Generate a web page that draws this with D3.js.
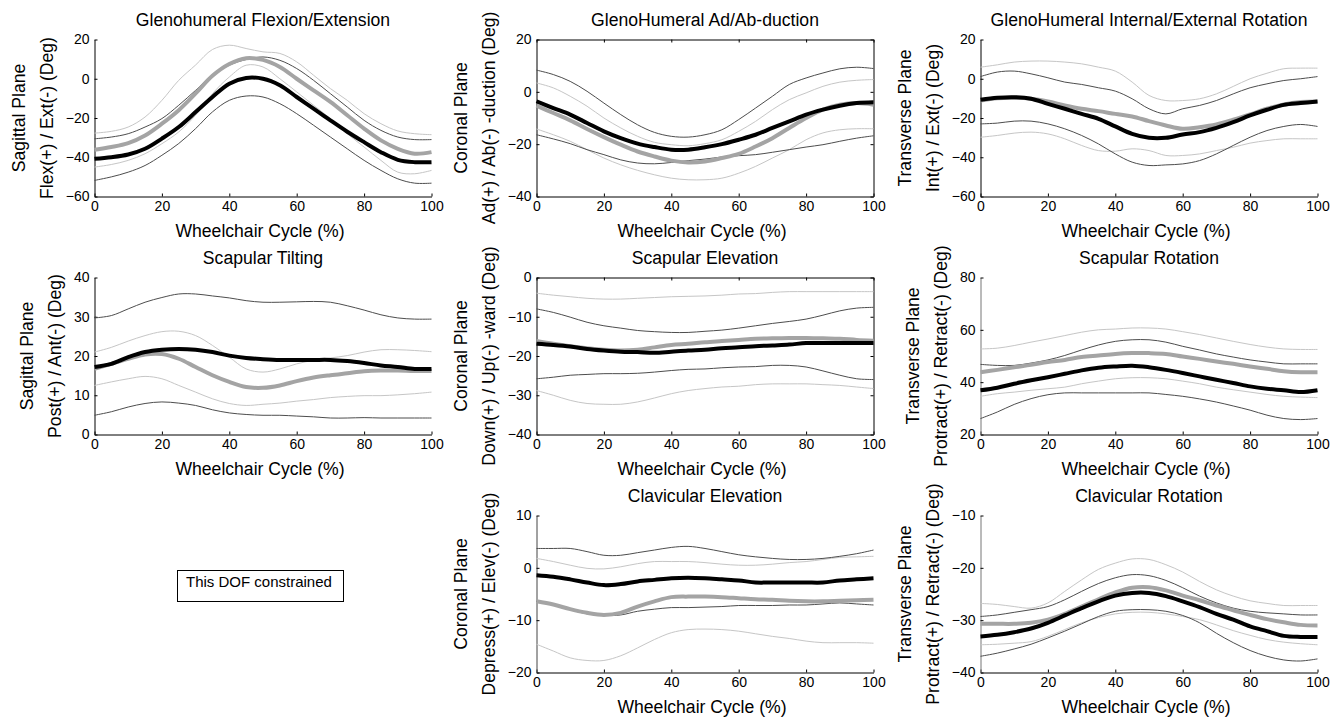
<!DOCTYPE html>
<html>
<head>
<meta charset="utf-8">
<script src="https://cdn.jsdelivr.net/npm/d3@7"></script>
<style>
  body { margin: 0; background: #fff; }
  svg text { font-family: "Liberation Sans", Arial, sans-serif; fill: #000; }
</style>
</head>
<body>
<svg id="chart" width="1342" height="719"></svg>
<script>
// Wheelchair cycle sample points (%)
const cyclePct = [0, 5, 10, 15, 20, 25, 30, 35, 40, 45, 50, 55, 60, 65, 70, 75, 80, 85, 90, 95, 100];
const xTicks = [0, 20, 40, 60, 80, 100];

// Glenohumeral flexion/extension
const ghFlexBlack  = [-40.8, -40, -38.6, -35.7, -30.5, -24.6, -17, -9.3, -2.5, 0.4, 0, -3.3, -9.3, -15.2, -21.2, -27, -32.3, -37.4, -41.3, -42.5, -42.5];
const ghFlexGray   = [-36.2, -34.8, -32.8, -28.9, -22.9, -16, -7.5, 1.5, 7.5, 10.5, 9.6, 6, 0, -5.9, -11.8, -18.6, -25.4, -31.4, -35.7, -38.2, -37.4];
const ghFlexDarkUp = [-30.6, -29.7, -28, -24.6, -20.3, -13.5, -5.9, 1.8, 6.9, 9.8, 11.1, 9.4, 5.2, -0.8, -7.6, -14.4, -21.2, -26.3, -29.7, -31, -31];
const ghFlexDarkDn = [-51.8, -50, -47.6, -44.2, -39, -33, -25.4, -16.9, -11, -8.8, -9.3, -12.7, -17.8, -23.7, -29.7, -35.7, -41.6, -46.7, -51, -53.2, -53.2];
const ghFlexLightUp = [-27.7, -26.8, -24.6, -19.5, -11, -0.8, 7, 14.9, 17.1, 15.4, 13.7, 12.9, 8.6, 1.8, -5, -11, -17.8, -22.9, -26.6, -28, -28.5];
const ghFlexLightDn = [-45, -43.7, -41.6, -38.2, -33.1, -27.1, -18.6, -7.6, 0.9, 6.9, 6, 0, -6.7, -13.5, -20.3, -28, -34.8, -41.6, -47.6, -48.4, -46.7];

// Glenohumeral ad/abduction
const ghAbdBlack  = [-3.6, -6.2, -8.7, -11.9, -15.1, -17.7, -19.8, -21.1, -22.1, -22.1, -21.2, -20, -18.3, -16.4, -13.8, -11.3, -8.7, -6.8, -5.3, -4.3, -4];
const ghAbdGray   = [-5.3, -8.1, -10.9, -14.2, -17.3, -20.2, -22.8, -24.7, -26.3, -27, -26.6, -25.3, -23.7, -20.9, -17.7, -13.8, -10, -6.8, -4.9, -4.3, -4.9];
const ghAbdDarkUp = [8.3, 6.6, 4, 0.2, -4.3, -8.7, -12.6, -15.5, -17, -17.3, -16.4, -14.5, -10.6, -6.2, -1.7, 2.8, 5.3, 7.2, 8.8, 9.4, 8.9];
const ghAbdDarkDn = [-16.4, -18, -19.8, -22.1, -24, -26, -27.2, -27.5, -27, -26.3, -25.7, -24.9, -24.4, -24, -23.1, -22.1, -21.1, -20.2, -18.9, -17.7, -16.8];
const ghAbdLightUp = [3.4, 1.5, -1.7, -5.5, -10, -13.8, -17, -19.3, -20.2, -20.6, -19.8, -18.3, -15.1, -11.3, -6.8, -3, -0.4, 2.1, 3.7, 4.4, 4.7];
const ghAbdLightDn = [-14.2, -16.4, -18.9, -22.1, -25.3, -27.9, -30, -31.7, -33, -33.6, -33.6, -33, -31.1, -28.5, -25.3, -22.1, -18.3, -15.7, -14.5, -14.1, -14.1];

// Glenohumeral internal/external rotation
const ghRotBlack  = [-10.7, -9.7, -9.4, -10.2, -12.8, -15.3, -17.9, -20.4, -24.3, -28.1, -30.1, -30.1, -28.4, -27.2, -25, -22.1, -18.7, -15.8, -13.3, -12.4, -11.6];
const ghRotGray   = [-11.1, -9.9, -9.7, -10.2, -11.6, -13.6, -15.3, -16.5, -17.9, -19.2, -21.6, -23.8, -25.5, -24.7, -23.3, -20.9, -18.2, -15.3, -13.1, -11.9, -11.6];
const ghRotDarkUp = [1.1, 3.4, 3.9, 2.5, 0.5, -1.7, -2.9, -4.6, -6.3, -10.2, -15.3, -17.9, -15.3, -13.6, -11.1, -7.7, -4.6, -2.6, -0.9, 0, 1.1];
const ghRotDarkDn = [-23, -22.6, -21.6, -21.6, -23, -25.5, -28.9, -33.2, -38.3, -42.5, -44.2, -43.9, -43.4, -41.7, -38.3, -34, -29.8, -26.4, -24.3, -23.3, -24.3];
const ghRotLightUp = [5.9, 7.1, 8.5, 9, 9, 8.5, 7.6, 5.9, 3.9, -1.7, -8.5, -11.1, -11.1, -10.2, -7.7, -3.9, 0, 2.8, 5.1, 5.4, 5.4];
const ghRotLightDn = [-29.8, -28.9, -27.7, -27.2, -28.1, -30.6, -34, -36.6, -36.9, -35.7, -36.6, -39.1, -39.1, -38.3, -36.6, -34.9, -32.8, -31.5, -30.6, -30.6, -30.6];

// Scapular tilting
const scTiltBlack  = [17.2, 18, 19.7, 21, 21.6, 21.8, 21.6, 21, 20.1, 19.5, 19.2, 19, 19, 19, 19, 18.7, 18.2, 17.6, 17.2, 16.7, 16.7];
const scTiltGray   = [16.7, 18, 19.3, 20.4, 20.5, 19.3, 17.2, 15.1, 13.4, 12.1, 11.9, 12.5, 13.6, 14.5, 15.1, 15.6, 16.1, 16.3, 16.3, 16.2, 16.2];
const scTiltDarkUp = [29.7, 30.3, 32, 33.7, 34.9, 35.8, 35.8, 35.3, 34.8, 34.1, 33.7, 33.7, 33.8, 33.9, 33.7, 32.8, 31.7, 30.5, 29.7, 29.4, 29.4];
const scTiltDarkDn = [4.9, 5.8, 7, 7.9, 8.3, 8, 7.4, 6.3, 5.5, 5.1, 4.9, 4.9, 4.7, 4.5, 4.2, 4.2, 4.3, 4.2, 4.2, 4.2, 4.2];
const scTiltLightUp = [21, 22.2, 23.8, 25.2, 26.2, 26.3, 25.2, 22.7, 19.7, 16.7, 15.9, 16.7, 18, 18.9, 19.5, 20.1, 21, 21.6, 21.6, 21.4, 21.1];
const scTiltLightDn = [12.5, 13.4, 14.2, 14.8, 14.2, 12.5, 10.8, 9.1, 7.9, 7.4, 7.7, 8, 8.5, 8.9, 9.4, 9.7, 9.9, 9.9, 10.1, 10.4, 10.8];

// Scapular elevation
const scElevBlack  = [-16.9, -17.2, -17.6, -18.2, -18.6, -18.9, -19, -19.2, -18.9, -18.6, -18.4, -18, -17.8, -17.5, -17.3, -17.1, -16.7, -16.7, -16.7, -16.7, -16.7];
const scElevGray   = [-16.2, -16.9, -17.5, -18, -18.4, -18.6, -18.4, -17.8, -17.2, -16.9, -16.5, -16.2, -15.9, -15.6, -15.5, -15.4, -15.4, -15.5, -15.6, -15.9, -16.1];
const scElevDarkUp = [-8, -8.9, -10.1, -11.4, -12.3, -12.9, -13.5, -13.8, -14, -14, -13.7, -13.4, -12.9, -12.3, -11.7, -11.2, -10.6, -9.6, -8.5, -7.8, -7.6];
const scElevDarkDn = [-25.8, -25.4, -24.9, -24.7, -24.5, -24.5, -24.4, -24.1, -23.7, -23.4, -23.3, -23, -22.8, -22.7, -22.4, -22.4, -22.8, -23.8, -24.9, -25.8, -26];
const scElevLightUp = [-4, -4.5, -4.9, -5.3, -5.5, -5.5, -5.3, -5.1, -4.9, -4.8, -4.7, -4.5, -4.2, -4.1, -3.8, -3.6, -3.6, -3.6, -3.6, -3.6, -3.6];
const scElevLightDn = [-28.8, -30, -31.3, -32.1, -32.3, -32.3, -31.7, -30.7, -29.6, -28.8, -28.3, -27.9, -27.7, -27.3, -27.1, -27.1, -27.1, -27.3, -27.5, -27.9, -28.3];

// Scapular rotation
const scRotBlack  = [36.9, 37.9, 39.4, 40.7, 41.9, 43.2, 44.5, 45.5, 46, 46.3, 45.7, 44.7, 43.5, 42.2, 40.9, 39.7, 38.4, 37.5, 36.9, 36.2, 36.9];
const scRotGray   = [43.8, 44.7, 45.7, 46.6, 47.7, 48.5, 49.6, 50.2, 50.8, 51.1, 51.1, 50.8, 49.8, 48.9, 47.9, 47, 46, 45.1, 44.2, 43.8, 43.8];
const scRotDarkUp = [46.8, 46.4, 46.4, 47.3, 48.5, 50.2, 52.3, 54.2, 55.6, 56.2, 56.2, 55.3, 53.7, 52.3, 50.8, 49.6, 48.5, 47.7, 47, 47, 47];
const scRotDarkDn = [26.1, 28.6, 31.5, 33.7, 35.2, 35.9, 35.9, 35.9, 35.9, 35.9, 35.9, 35.3, 34.6, 33.6, 32.4, 30.9, 29.3, 27.4, 26.1, 25.7, 26.1];
const scRotLightUp = [52.7, 53, 54, 55.3, 56.5, 57.8, 59.1, 60, 60.3, 60.7, 60.7, 60.3, 59.3, 58.2, 56.9, 55.6, 54.4, 53.4, 52.7, 52.5, 52.5];
const scRotLightDn = [34.6, 35.6, 36.2, 36.9, 37.5, 38.1, 39.4, 40.4, 41.3, 41.7, 41.7, 41.3, 40.4, 39.4, 38.1, 37.1, 36.2, 35.3, 34.6, 34.3, 34.1];

// Clavicular elevation
const clElevBlack  = [-1.4, -1.7, -2.2, -2.8, -3.3, -3.1, -2.6, -2.3, -2, -1.9, -2, -2.2, -2.4, -2.8, -2.8, -2.8, -2.8, -2.8, -2.4, -2.2, -2];
const clElevGray   = [-6.4, -7, -7.9, -8.6, -9, -8.6, -7.4, -6.4, -5.6, -5.5, -5.5, -5.6, -5.8, -6, -6.1, -6.3, -6.4, -6.4, -6.3, -6.2, -6.1];
const clElevDarkUp = [3.7, 3.7, 3.7, 3.1, 2.4, 2.4, 2.9, 3.4, 3.9, 4.1, 3.7, 3.1, 2.5, 2.1, 1.8, 1.6, 1.6, 1.8, 2.2, 2.7, 3.4];
const clElevDarkDn = [-6.4, -7, -8, -8.8, -9.1, -9, -8.3, -7.9, -7.6, -7.6, -7.5, -7.4, -7.2, -7.2, -7.2, -7.1, -7.1, -6.9, -6.7, -6.9, -7.1];
const clElevLightUp = [1.8, 1.2, 0.5, -0.1, -0.2, 0.2, 0.8, 1.2, 1.2, 1.2, 1, 0.7, 0.5, 0.5, 0.7, 1, 1.2, 1.6, 2, 2.1, 2.2];
const clElevLightDn = [-14.6, -15.9, -17.2, -17.7, -17.7, -16.8, -15.3, -13.7, -12.4, -11.8, -11.7, -11.8, -12.1, -12.6, -13.1, -13.5, -14, -14.3, -14.3, -14.3, -14.4];

// Clavicular rotation
const clRotBlack  = [-33.1, -32.8, -32.3, -31.6, -30.5, -29.1, -27.7, -26.4, -25.3, -24.8, -24.8, -25.4, -26.4, -27.5, -28.8, -29.9, -31.2, -32.1, -33, -33.2, -33.2];
const clRotGray   = [-30.7, -30.7, -30.7, -30.5, -29.9, -28.8, -27.4, -26, -24.7, -23.8, -23.7, -24.3, -25.3, -26.2, -27.2, -28.1, -29, -29.8, -30.4, -30.9, -31];
const clRotDarkUp = [-29.3, -29, -28.5, -28, -27.4, -26.1, -24.5, -23, -21.9, -21.3, -21.5, -22.4, -23.8, -25.4, -26.7, -27.7, -28.3, -28.6, -28.8, -29, -29];
const clRotDarkDn = [-36.9, -36.3, -35.5, -34.6, -33.4, -32.1, -30.7, -29.3, -28.3, -28, -28, -28.3, -29.1, -30.5, -32.5, -34.3, -35.8, -36.9, -37.6, -37.8, -37.4];
const clRotLightUp = [-26.8, -27, -27.4, -27.7, -26.7, -24.5, -22.3, -20.3, -19.1, -18.3, -18.4, -19.4, -20.8, -22.6, -24.2, -25.4, -26.3, -26.8, -27.2, -27.2, -27.2];
const clRotLightDn = [-34.7, -34.6, -34.4, -34.1, -33.1, -31.8, -30.5, -29.5, -28.8, -28.5, -28.5, -28.8, -29.3, -29.9, -30.9, -32, -32.9, -33.7, -34.2, -34.5, -34.7];

const panels = [
  { col: 0, row: 0, title: 'Glenohumeral Flexion/Extension', plane: 'Sagittal Plane', ylab: 'Flex(+) / Ext(-) (Deg)',
    yDomain: [-60, 20], yTicks: [-60, -40, -20, 0, 20], box: false,
    lines: [ghFlexLightUp, ghFlexLightDn, ghFlexDarkUp, ghFlexDarkDn, ghFlexGray, ghFlexBlack] },
  { col: 1, row: 0, title: 'GlenoHumeral Ad/Ab-duction', plane: 'Coronal Plane', ylab: 'Ad(+) / Ab(-) -duction (Deg)',
    yDomain: [-40, 20], yTicks: [-40, -20, 0, 20], box: true,
    lines: [ghAbdLightUp, ghAbdLightDn, ghAbdDarkUp, ghAbdDarkDn, ghAbdGray, ghAbdBlack] },
  { col: 2, row: 0, title: 'GlenoHumeral Internal/External Rotation', plane: 'Transverse Plane', ylab: 'Int(+) / Ext(-) (Deg)',
    yDomain: [-60, 20], yTicks: [-60, -40, -20, 0, 20], box: false,
    lines: [ghRotLightUp, ghRotLightDn, ghRotDarkUp, ghRotDarkDn, ghRotGray, ghRotBlack] },
  { col: 0, row: 1, title: 'Scapular Tilting', plane: 'Sagittal Plane', ylab: 'Post(+) / Ant(-) (Deg)',
    yDomain: [0, 40], yTicks: [0, 10, 20, 30, 40], box: false,
    lines: [scTiltLightUp, scTiltLightDn, scTiltDarkUp, scTiltDarkDn, scTiltGray, scTiltBlack] },
  { col: 1, row: 1, title: 'Scapular Elevation', plane: 'Coronal Plane', ylab: 'Down(+) / Up(-) -ward (Deg)',
    yDomain: [-40, 0], yTicks: [-40, -30, -20, -10, 0], box: true,
    lines: [scElevLightUp, scElevLightDn, scElevDarkUp, scElevDarkDn, scElevGray, scElevBlack] },
  { col: 2, row: 1, title: 'Scapular Rotation', plane: 'Transverse Plane', ylab: 'Protract(+) / Retract(-) (Deg)',
    yDomain: [20, 80], yTicks: [20, 40, 60, 80], box: false, yAxisColor: '#777',
    lines: [scRotLightUp, scRotLightDn, scRotDarkUp, scRotDarkDn, scRotGray, scRotBlack] },
  { col: 1, row: 2, title: 'Clavicular Elevation', plane: 'Coronal Plane', ylab: 'Depress(+) / Elev(-) (Deg)',
    yDomain: [-20, 10], yTicks: [-20, -10, 0, 10], box: false, yAxisColor: '#444',
    lines: [clElevLightUp, clElevLightDn, clElevDarkUp, clElevDarkDn, clElevGray, clElevBlack] },
  { col: 2, row: 2, title: 'Clavicular Rotation', plane: 'Transverse Plane', ylab: 'Protract(+) / Retract(-) (Deg)',
    yDomain: [-40, -10], yTicks: [-40, -30, -20, -10], box: false, yAxisColor: '#777',
    lines: [clRotLightUp, clRotLightDn, clRotDarkUp, clRotDarkDn, clRotGray, clRotBlack] }
];

// light SD, light SD, dark SD, dark SD, gray mean, black mean
const lineStyles = [
  { color: '#c6c6c6', width: 1 }, { color: '#c6c6c6', width: 1 },
  { color: '#4d4d4d', width: 1 }, { color: '#4d4d4d', width: 1 },
  { color: '#a4a4a4', width: 4 }, { color: '#000', width: 4 }
];

const colLeft = [94.5, 536.5, 980.5];
const rowTop = [39.5, 277.5, 515.5];
const plotW = 337, plotH = 157;
const labelSize = '17.6px', tickSize = '14px';

const svg = d3.select('#chart');

panels.forEach(p => {
  const g = svg.append('g').attr('transform', `translate(${colLeft[p.col]},${rowTop[p.row]})`);
  const x = d3.scaleLinear().domain([0, 100]).range([0, plotW]);
  const y = d3.scaleLinear().domain(p.yDomain).range([plotH, 0]);

  // axes (ticks point inward, MATLAB style)
  const xAxis = g.append('g').attr('transform', `translate(0,${plotH})`)
    .call(d3.axisBottom(x).tickValues(xTicks).tickSizeInner(-3).tickSizeOuter(0).tickPadding(5));
  const yAxis = g.append('g')
    .call(d3.axisLeft(y).tickValues(p.yTicks).tickSizeInner(-3).tickSizeOuter(0).tickPadding(5));
  [xAxis, yAxis].forEach(a => {
    a.selectAll('text').style('font-size', tickSize).attr('fill', '#000');
    a.selectAll('line').attr('stroke', '#000');
    a.select('.domain').attr('stroke', '#000');
  });
  if (p.yAxisColor) yAxis.select('.domain').attr('stroke', p.yAxisColor);

  if (p.box) {
    g.append('g')
      .call(d3.axisTop(x).tickValues(xTicks).tickSizeInner(-3).tickSizeOuter(0).tickFormat(''))
      .selectAll('line, path').attr('stroke', '#000');
    g.append('g').attr('transform', `translate(${plotW},0)`)
      .call(d3.axisRight(y).tickValues(p.yTicks).tickSizeInner(-3).tickSizeOuter(0).tickFormat(''))
      .selectAll('line, path').attr('stroke', '#000');
  }

  // curves
  p.lines.forEach((vals, i) => {
    const line = d3.line()
      .x((d, j) => x(cyclePct[j]))
      .y(d => y(d))
      .curve(d3.curveCatmullRom.alpha(0.5));
    g.append('path')
      .datum(vals)
      .attr('d', line)
      .attr('fill', 'none')
      .attr('stroke', lineStyles[i].color)
      .attr('stroke-width', lineStyles[i].width)
      .attr('stroke-linejoin', 'round');
  });

  // title and x label
  g.append('text').attr('x', plotW / 2).attr('y', -14)
    .attr('text-anchor', 'middle').style('font-size', labelSize).text(p.title);
  g.append('text').attr('x', plotW / 2 - 3).attr('y', plotH + 40)
    .attr('text-anchor', 'middle').style('font-size', labelSize).text('Wheelchair Cycle (%)');

  // two-line y label, placed outside the widest tick label
  let tickW = 0;
  yAxis.selectAll('text').each(function () { tickW = Math.max(tickW, this.getComputedTextLength()); });
  const base2 = -(5 + tickW + 13);
  const base1 = base2 - 28;
  [[base1, p.plane], [base2, p.ylab]].forEach(([bx, txt]) => {
    g.append('text')
      .attr('transform', `translate(${bx},${plotH / 2}) rotate(-90)`)
      .attr('text-anchor', 'middle').style('font-size', labelSize).text(txt);
  });
});

// note in the empty lower-left slot
svg.append('rect').attr('x', 177.5).attr('y', 570.5).attr('width', 166).attr('height', 31)
  .attr('fill', 'none').attr('stroke', '#000');
svg.append('text').attr('x', 186).attr('y', 587).style('font-size', '15px').text('This DOF constrained');
</script>
</body>
</html>
